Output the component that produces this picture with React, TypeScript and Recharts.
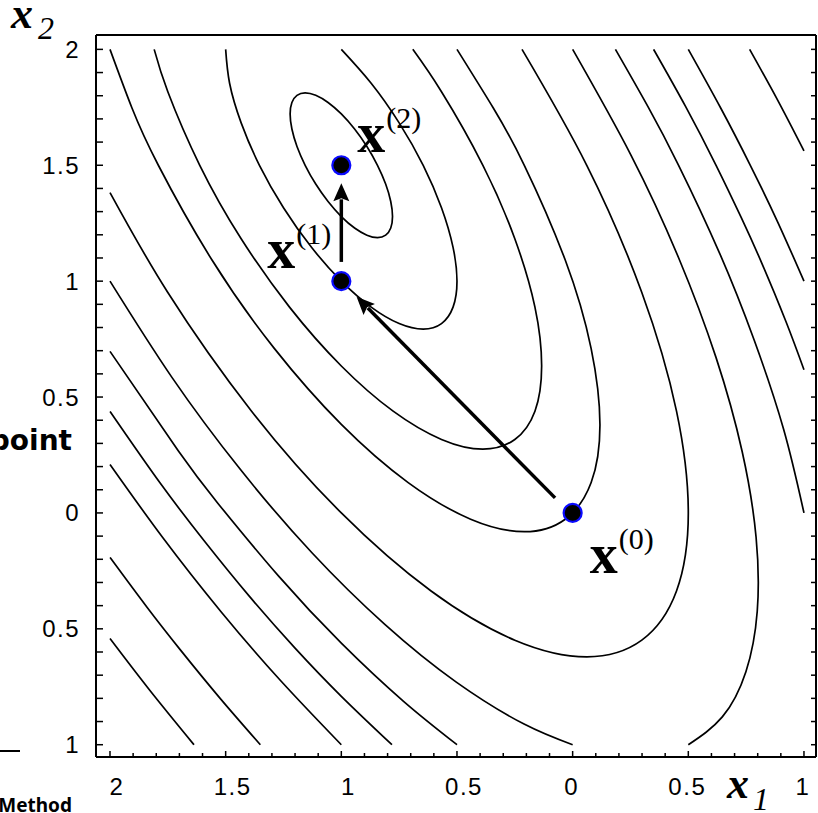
import { ComposedChart, Line, ReferenceLine, Scatter, XAxis, YAxis } from 'recharts';

type Pair = [number, number];

// contour lines, one array per level (x1, x2)
const contourInner: Pair[] = [
  [-0.776, 1.276], [-0.784, 1.342], [-0.806, 1.418], [-0.842, 1.5], [-0.888, 1.582], [-0.942, 1.658],
  [-1, 1.724], [-1.058, 1.774], [-1.112, 1.805], [-1.158, 1.816], [-1.194, 1.805], [-1.216, 1.774],
  [-1.224, 1.724], [-1.216, 1.658], [-1.194, 1.582], [-1.158, 1.5], [-1.112, 1.418], [-1.058, 1.342],
  [-1, 1.276], [-0.942, 1.226], [-0.888, 1.195], [-0.842, 1.184], [-0.806, 1.195], [-0.784, 1.226],
];
const contourM1: Pair[] = [
  [-1.5, 2], [-1.483, 1.854], [-1.433, 1.683], [-1.354, 1.5], [-1.25, 1.317], [-1.129, 1.146], [-1, 1],
  [-0.871, 0.888], [-0.75, 0.817], [-0.646, 0.793], [-0.567, 0.817], [-0.517, 0.888], [-0.5, 1],
  [-0.517, 1.146], [-0.567, 1.317], [-0.646, 1.5], [-0.75, 1.683], [-0.871, 1.854], [-1, 2],
];
const contourM05: Pair[] = [
  [-1.809, 2], [-1.75, 1.817], [-1.612, 1.5], [-1.433, 1.183], [-1.224, 0.888], [-1, 0.634],
  [-0.776, 0.439], [-0.567, 0.317], [-0.388, 0.275], [-0.25, 0.317], [-0.163, 0.439], [-0.134, 0.634],
  [-0.163, 0.888], [-0.25, 1.183], [-0.388, 1.5], [-0.567, 1.817], [-0.691, 2],
];
const contour0: Pair[] = [
  [-2, 2], [-1.905, 1.747], [-1.791, 1.5], [-1.559, 1.091], [-1.289, 0.709], [-1, 0.382], [-0.711, 0.131],
  [-0.441, -0.027], [-0.209, -0.081], [-0.032, -0.027], [0.08, 0.131], [0.118, 0.382], [0.08, 0.709],
  [-0.032, 1.091], [-0.209, 1.5], [-0.343, 1.747], [-0.5, 2],
];
const contour1: Pair[] = [
  [-2, 1.382], [-1.75, 0.951], [-1.388, 0.439], [-1, 0], [-0.612, -0.337], [-0.25, -0.549], [0.061, -0.621],
  [0.299, -0.549], [0.449, -0.337], [0.5, 0], [0.449, 0.439], [0.299, 0.951], [0.061, 1.5], [-0.219, 2],
];
const contour2a: Pair[] = [
  [-2, 1], [-1.733, 0.586], [-1.436, 0.187], [-1.126, -0.173], [-0.812, -0.481], [-0.503, -0.73],
  [-0.21, -0.911], [0, -1],
];
const contour2b: Pair[] = [
  [0.5, -1], [0.647, -0.88], [0.749, -0.685], [0.798, -0.424], [0.793, -0.105], [0.733, 0.264],
  [0.62, 0.67], [0.458, 1.101], [0.252, 1.544], [0, 2],
];
const contour3a: Pair[] = [
  [-2, 0.697], [-1.705, 0.268], [-1.534, 0.042], [-1.269, -0.275], [-1, -0.562], [-0.731, -0.813], [-0.5, -1],
];
const contour3b: Pair[] = [
  [1, 0], [0.912, 0.361], [0.785, 0.745], [0.636, 1.119], [0.458, 1.5], [0.325, 1.754], [0.185, 2],
];
const contour4a: Pair[] = [
  [-2, 0.438], [-1.784, 0.13], [-1.593, -0.12], [-1.398, -0.359], [-1.2, -0.583], [-1, -0.791], [-0.781, -1],
];
const contour4b: Pair[] = [
  [1, 0.618], [0.922, 0.826], [0.818, 1.077], [0.729, 1.274], [0.62, 1.5], [0.488, 1.754], [0.35, 2],
];
const contour5a: Pair[] = [[-2, 0.209], [-1.773, -0.105], [-1.52, -0.426], [-1.261, -0.725], [-1, -1]];
const contour5b: Pair[] = [[1, 1], [0.887, 1.254], [0.768, 1.5], [0.64, 1.747], [0.5, 2]];
const contour7a: Pair[] = [[-2, -0.192], [-1.84, -0.407], [-1.695, -0.592], [-1.523, -0.801], [-1.35, -1]];
const contour7b: Pair[] = [[1, 1.562], [0.885, 1.783], [0.765, 2]];
const contour9: Pair[] = [[-2, -0.542], [-1.829, -0.764], [-1.637, -1]];

const openContours = [
  contourM1, contourM05, contour0, contour1, contour2a, contour2b, contour3a, contour3b,
  contour4a, contour4b, contour5a, contour5b, contour7a, contour7b, contour9,
];

// iterates x(0), x(1), x(2)
const iterates = [
  { x: 0, y: 0, k: 0 },
  { x: -1, y: 1, k: 1 },
  { x: -1, y: 1.5, k: 2 },
];

// step arrows (tail -> head)
const steps: [Pair, Pair][] = [
  [[-0.076, 0.065], [-0.934, 0.933]],
  [[-1, 1.083], [-1, 1.422]],
];

const xTicks = [
  -2, -1.9, -1.8, -1.7, -1.6, -1.5, -1.4, -1.3, -1.2, -1.1, -1, -0.9, -0.8, -0.7, -0.6, -0.5,
  -0.4, -0.3, -0.2, -0.1, 0, 0.1, 0.2, 0.3, 0.4, 0.5, 0.6, 0.7, 0.8, 0.9, 1,
];
const yTicks = [
  -1, -0.9, -0.8, -0.7, -0.6, -0.5, -0.4, -0.3, -0.2, -0.1, 0, 0.1, 0.2, 0.3, 0.4, 0.5,
  0.6, 0.7, 0.8, 0.9, 1, 1.1, 1.2, 1.3, 1.4, 1.5, 1.6, 1.7, 1.8, 1.9, 2,
];
const xMajor = [-2, -1.5, -1, -0.5, 0, 0.5, 1];
const xLabels = ['2', '1.5', '1', '0.5', '0', '0.5', '1'];
const yMajor = [-1, -0.5, 0, 0.5, 1, 1.5, 2];
const yLabels = ['1', '0.5', '0', '0.5', '1', '1.5', '2'];

const toPts = (a: Pair[]) => a.map(([x, y]) => ({ x, y }));
const majorAt = (v: number, majors: number[]) => majors.findIndex((m) => Math.abs(m - v) < 1e-6);

const tickFont = { fontFamily: "'Liberation Sans', Arial, sans-serif", fontSize: 24, letterSpacing: 1.5 };
const serif = "'Liberation Serif', 'Times New Roman', serif";

function BottomTick({ x, y, payload }: any) {
  const i = majorAt(payload.value, xMajor);
  return (
    <g>
      <line x1={x} y1={y} x2={x} y2={y - (i >= 0 ? 6 : 4)} stroke="#000" strokeWidth={1.5} />
      {i >= 0 && (
        <text x={x + (payload.value < 0 ? 7 : -1)} y={y + 38} textAnchor="middle" fill="#000" style={tickFont}>
          {xLabels[i]}
        </text>
      )}
    </g>
  );
}

function TopTick({ x, y }: any) {
  return <line x1={x} y1={y} x2={x} y2={y + 5} stroke="#000" strokeWidth={1.5} />;
}

function LeftTick({ x, y, payload }: any) {
  const i = majorAt(payload.value, yMajor);
  return (
    <g>
      <line x1={x} y1={y} x2={x + 7} y2={y} stroke="#000" strokeWidth={1.5} />
      {i >= 0 && (
        <text x={x - 16} y={y + 8.5} textAnchor="end" fill="#000" style={tickFont}>
          {yLabels[i]}
        </text>
      )}
    </g>
  );
}

function RightTick({ x, y }: any) {
  return <line x1={x} y1={y} x2={x - 5} y2={y} stroke="#000" strokeWidth={1.5} />;
}

function StepArrow({ x1, y1, x2, y2 }: any) {
  const len = Math.hypot(x2 - x1, y2 - y1) || 1;
  const ux = (x2 - x1) / len;
  const uy = (y2 - y1) / len;
  const bx = x2 - ux * 18;
  const by = y2 - uy * 18;
  return (
    <g>
      <line x1={x1} y1={y1} x2={bx + ux * 2} y2={by + uy * 2} stroke="#000" strokeWidth={3.5} />
      <polygon
        points={`${x2},${y2} ${bx - uy * 8},${by + ux * 8} ${bx + ux * 3},${by + uy * 3} ${bx + uy * 8},${by - ux * 8}`}
        fill="#000"
      />
    </g>
  );
}

const labelOffset: Record<number, [number, number]> = { 0: [17, 60], 1: [-74, -13], 2: [16, -13] };

function IterateDot({ cx, cy, payload }: any) {
  const [dx, dy] = labelOffset[payload.k];
  return (
    <g>
      <circle cx={cx} cy={cy} r={9} fill="#000" stroke="#0a0aff" strokeWidth={2.2} />
      <text x={cx + dx} y={cy + dy} fontFamily={serif} fill="#000">
        <tspan fontSize={56} fontWeight="bold">x</tspan>
        <tspan fontSize={30} dx={1} dy={-24}>{`(${payload.k})`}</tspan>
      </text>
    </g>
  );
}

const frame = { stroke: '#000', strokeWidth: 2 };

export default function App() {
  return (
    <div style={{ position: 'absolute', left: 0, top: 0, width: 818, height: 813, background: '#fff' }}>
      <ComposedChart width={818} height={813} margin={{ top: 0, right: 0, bottom: 0, left: 0 }}>
        <XAxis
          dataKey="x"
          type="number"
          domain={[-2.0605, 1.052]}
          ticks={xTicks}
          interval={0}
          allowDataOverflow
          height={56}
          tickSize={0}
          tickMargin={0}
          tick={<BottomTick />}
          axisLine={frame}
        />
        <XAxis
          xAxisId="top"
          orientation="top"
          type="number"
          domain={[-2.0605, 1.052]}
          ticks={xTicks}
          interval={0}
          allowDataOverflow
          height={35}
          tickSize={0}
          tickMargin={0}
          tick={<TopTick />}
          axisLine={frame}
        />
        <YAxis
          dataKey="y"
          type="number"
          domain={[-1.053, 2.062]}
          ticks={yTicks}
          interval={0}
          allowDataOverflow
          width={96}
          tickSize={0}
          tickMargin={0}
          tick={<LeftTick />}
          axisLine={frame}
        />
        <YAxis
          yAxisId="right"
          orientation="right"
          type="number"
          domain={[-1.053, 2.062]}
          ticks={yTicks}
          interval={0}
          allowDataOverflow
          width={2}
          tickSize={0}
          tickMargin={0}
          tick={<RightTick />}
          axisLine={frame}
        />
        <Line
          data={toPts(contourInner)}
          dataKey="y"
          type="basisClosed"
          stroke="#000"
          strokeWidth={1.7}
          dot={false}
          activeDot={false}
          isAnimationActive={false}
        />
        {openContours.map((c, i) => (
          <Line
            key={i}
            data={toPts(c)}
            dataKey="y"
            type="natural"
            stroke="#000"
            strokeWidth={1.7}
            dot={false}
            activeDot={false}
            isAnimationActive={false}
          />
        ))}
        {steps.map(([a, b], i) => (
          <ReferenceLine
            key={i}
            segment={[{ x: a[0], y: a[1] }, { x: b[0], y: b[1] }]}
            shape={(p: any) => <StepArrow {...p} />}
          />
        ))}
        <Scatter data={iterates} dataKey="y" isAnimationActive={false} shape={(p: any) => <IterateDot {...p} />} />
      </ComposedChart>
      <svg width={818} height={813} style={{ position: 'absolute', left: 0, top: 0, pointerEvents: 'none' }}>
        <text x={11} y={28} fontFamily={serif} fontSize={44} fontWeight="bold" fontStyle="italic" fill="#000">x</text>
        <text x={38} y={39} fontFamily={serif} fontSize={32} fontStyle="italic" fill="#000">2</text>
        <text x={727} y={798} fontFamily={serif} fontSize={44} fontWeight="bold" fontStyle="italic" fill="#000">x</text>
        <text x={753} y={810} fontFamily={serif} fontSize={32} fontStyle="italic" fill="#000">1</text>
        <text x={72} y={450} textAnchor="end" fontFamily="'DejaVu Sans', sans-serif" fontSize={28} fontWeight="bold" fill="#000">point</text>
        <text x={72} y={812} textAnchor="end" fontFamily="'Noto Sans', sans-serif" fontSize={19} fontWeight="bold" fill="#000">Method</text>
        <line x1={0} y1={751} x2={20} y2={751} stroke="#000" strokeWidth={2} />
      </svg>
    </div>
  );
}
